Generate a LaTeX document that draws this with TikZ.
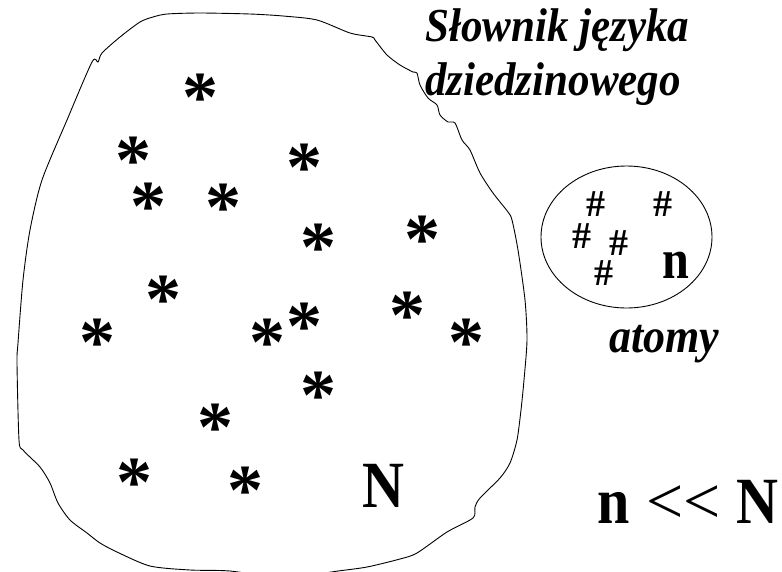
\documentclass[tikz,border=0pt]{standalone}
\usepackage{fontspec}
\setmainfont{Liberation Serif}
\usepackage{graphicx}
\newcommand{\tall}[1]{\scalebox{1}[1.1]{#1}}
\newcommand{\narrow}[1]{\scalebox{0.88}[1]{#1}}
\begin{document}
\begin{tikzpicture}[x=1pt,y=-1pt,
  glyph/.style={inner sep=0pt, outer sep=0pt, anchor=base},
  star/.style={glyph, font=\fontsize{72}{72}\selectfont\bfseries},
  hash/.style={glyph, font=\fontsize{38}{38}\selectfont\bfseries},
  title/.style={inner sep=0pt, anchor=base west, font=\fontsize{43}{43}\selectfont\bfseries\itshape},
  big/.style={inner sep=0pt, font=\fontsize{66}{66}\selectfont\bfseries},
  outline/.style={draw=black, line width=0.9pt}]
\useasboundingbox (0,0) rectangle (782,571);
\clip (0,0) rectangle (782,571);
% dictionary blob
\draw[outline] plot[smooth cycle, tension=0.45] coordinates {
 (92,62) (98,62) (102,53) (120,37) (140,22) (153,17) (167,14) (200,13) (250,14) (283,16) (317,20) (350,33) (372,37) (375,40) (387,55) (400,65) (413,72) (417,73) (420,85) (428,98) (437,105) (440,115) (448,122) (455,123) (462,140) (470,150) (480,173) (493,193) (508,212) (512,220) (518,250) (525,300) (527,340) (524,380) (521,410) (517,440) (510,463) (500,478) (480,498) (475,507) (473,518) (447,532) (417,553) (400,559) (367,567) (338,571) (285,578) (230,571) (190,570) (150,566) (117,552) (100,543) (87,533) (70,520) (58,503) (50,483) (40,467) (23,450) (19,440) (17,363) (18,343) (23,280) (30,230) (42,180) (67,120)};
% atoms ellipse
\draw[outline] (626.5,237) ellipse [x radius=85.5, y radius=71];
% asterisks
\foreach \n/\x/\y in {1/200/87, 2/133/150, 3/304/157, 4/148/196, 5/223/197, 6/318/237, 7/422/229, 8/163/289, 9/97/332, 10/267/332, 11/304/316, 12/407/305, 13/466/332, 14/318/385, 15/215/417, 16/134/472, 17/245/480}
  \node[star] (a\n) at (\x,\y+34) {*};
% hashes
\foreach \n/\x/\y in {1/596/204, 2/663/204, 3/582/236, 4/619/243, 5/604/273}
  \node[hash] (h\n) at (\x,\y+12.8) {\#};
\node[glyph, font=\fontsize{56}{56}\selectfont\bfseries] (nsmall) at (675.5,278) {\scalebox{0.86}[1]{n}};
% texts
\node[title] (t1) at (425,41.5) {\tall{Słownik języka}};
\node[title] (t2) at (425,95) {\tall{dziedzinowego}};
\node[title, font=\fontsize{44}{44}\selectfont\bfseries\itshape] (atomy) at (609,352) {\tall{atomy}};
\node[big, anchor=base] (bigN) at (383,507) {\narrow{N}};
\node[big, anchor=base west] (rel) at (597,523) {\narrow{n} {\mdseries<\kern0pt<} \narrow{N}};
\end{tikzpicture}
\end{document}
